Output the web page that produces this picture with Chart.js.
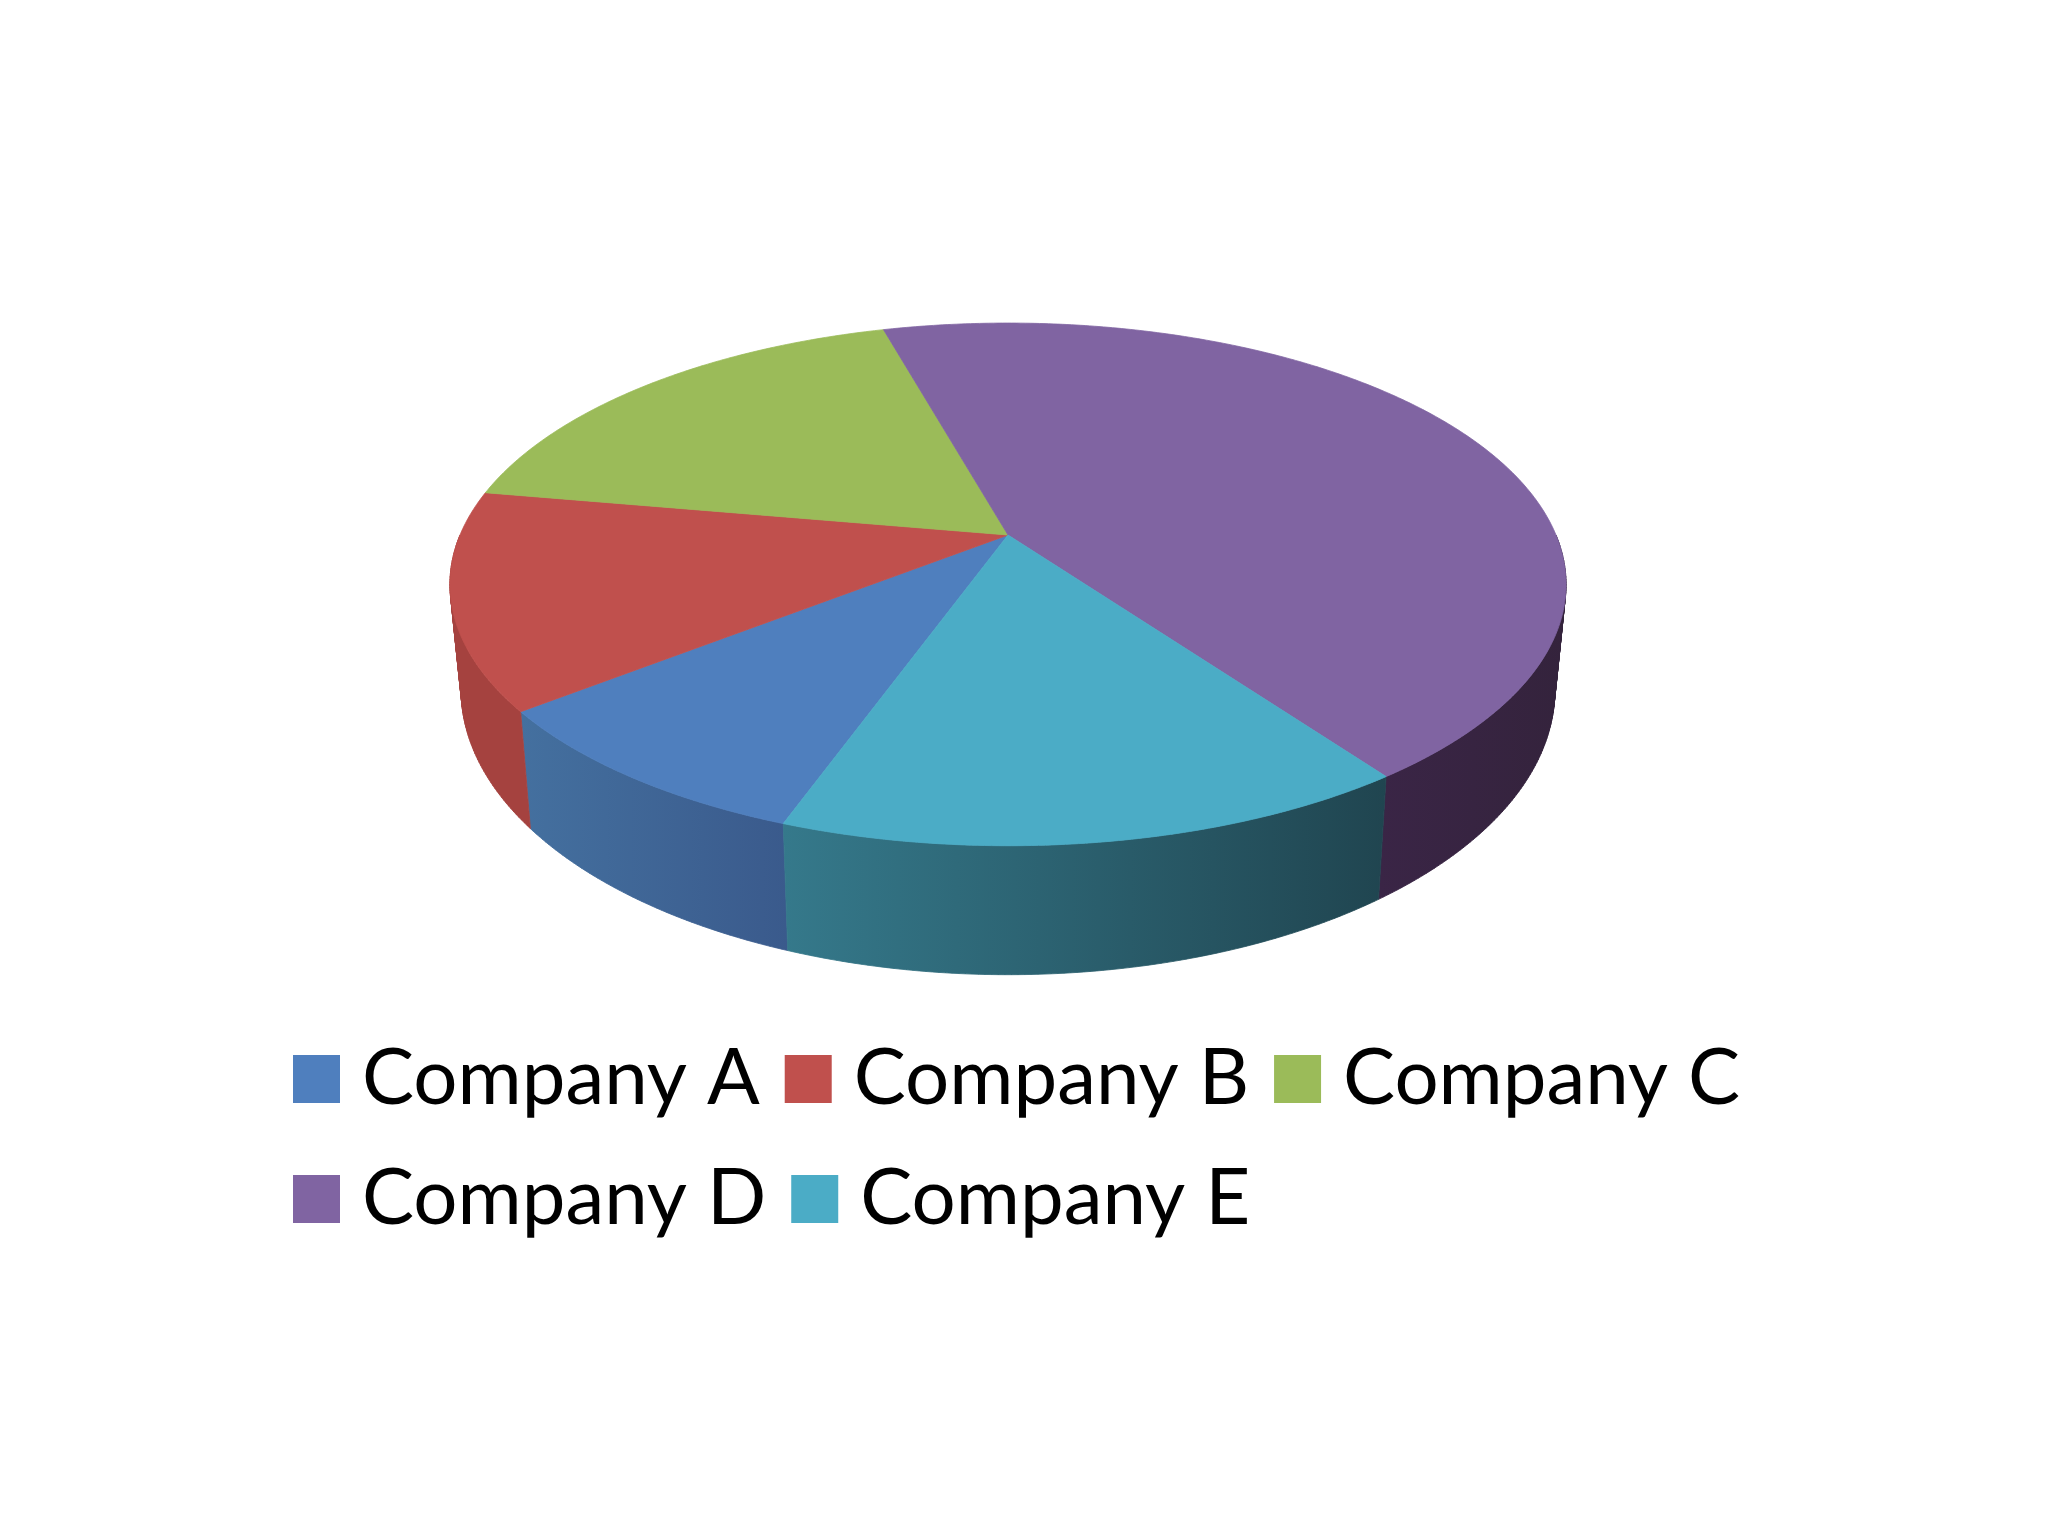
<!DOCTYPE html>
<html>
<head>
<meta charset="utf-8">
<title>Company share</title>
<script src="https://cdn.jsdelivr.net/npm/chart.js@4"></script>
<style>
  html, body { margin: 0; padding: 0; background: #ffffff; }
  #wrap { width: 2048px; height: 1536px; }
</style>
</head>
<body>
<div id="wrap"><canvas id="chart"></canvas></div>
<script>
const categories = ['Company A', 'Company B', 'Company C', 'Company D', 'Company E'];
const shares = [8.9, 13.4, 17.9, 44.4, 15.4];
const topColors = ['#4f7fbe', '#c0504d', '#9bbb59', '#8064a2', '#4bacc6'];
const wallLeft = ['#44709f', '#a5423f', '#7d9647', '#3a2546', '#35798b'];
const wallRight = ['#3a5a8c', '#a5423f', '#7d9647', '#34233c', '#204550'];

// The tilted disc: the apex sits above the centre of the outline, as in a perspective view
const disc = { cx: 1008, cy: 535, halfX: 548, halfY: 252, skew: -0.189, frontY: 846, lowFrontY: 975, shrinkX: 0.98, stretchY: 1.09 };

function rim(angle) {
    const den = 1 + disc.skew * Math.sin(angle);
    return {
        x: disc.cx + disc.halfX * Math.cos(angle) / den,
        y: disc.cy + disc.halfY * Math.sin(angle) / den
    };
}

function lowerRim(angle) {
    const p = rim(angle);
    return {
        x: disc.cx + (p.x - disc.cx) * disc.shrinkX,
        y: disc.lowFrontY + (p.y - disc.frontY) * disc.stretchY
    };
}

function samples(from, to) {
    const n = Math.max(2, Math.ceil((to - from) / 0.01));
    const out = [];
    for (let i = 0; i <= n; i++) out.push(from + (to - from) * i / n);
    return out;
}

function drawWall(ctx, from, to, i) {
    const angles = samples(from, to);
    const xs = angles.map(a => rim(a).x).concat(angles.map(a => lowerRim(a).x));
    const gradient = ctx.createLinearGradient(Math.min(...xs), 0, Math.max(...xs), 0);
    gradient.addColorStop(0, wallLeft[i]);
    gradient.addColorStop(1, wallRight[i]);
    ctx.beginPath();
    // the strip folds back on itself at the outline, so every quad gets the same winding or they cancel out
    for (let k = 1; k < angles.length; k++) {
        const quad = [rim(angles[k - 1]), rim(angles[k]), lowerRim(angles[k]), lowerRim(angles[k - 1])];
        const area = quad.reduce((sum, p, n) => {
            const q = quad[(n + 1) % 4];
            return sum + p.x * q.y - q.x * p.y;
        }, 0);
        if (area < 0) quad.reverse();
        quad.forEach((p, n) => n ? ctx.lineTo(p.x, p.y) : ctx.moveTo(p.x, p.y));
        ctx.closePath();
    }
    ctx.fillStyle = gradient;
    ctx.strokeStyle = gradient;
    ctx.lineWidth = 0.8;
    ctx.fill();
    ctx.stroke();
}

const discPlugin = {
    id: 'disc',
    beforeDatasetDraw(chart) {
        const ctx = chart.ctx;
        const arcs = chart.getDatasetMeta(0).data;
        ctx.save();
        // only the front half of the side is ever visible
        arcs.forEach((arc, i) => {
            [0, 2 * Math.PI].forEach(turn => {
                const from = Math.max(arc.startAngle, turn);
                const to = Math.min(arc.endAngle, turn + Math.PI);
                if (to > from) drawWall(ctx, from, to, i);
            });
        });
        arcs.forEach((arc, i) => {
            ctx.beginPath();
            ctx.moveTo(disc.cx, disc.cy);
            samples(arc.startAngle, arc.endAngle).map(rim).forEach(p => ctx.lineTo(p.x, p.y));
            ctx.closePath();
            ctx.fillStyle = topColors[i];
            ctx.strokeStyle = topColors[i];
            ctx.lineWidth = 0.8;
            ctx.fill();
            ctx.stroke();
        });
        ctx.restore();
        return false;
    }
};

new Chart(document.getElementById('chart'), {
    type: 'pie',
    data: {
        labels: categories,
        datasets: [{ data: shares, backgroundColor: topColors, borderWidth: 0 }]
    },
    options: {
        responsive: true,
        maintainAspectRatio: false,
        animation: false,
        rotation: 199.7,
        layout: { padding: { left: 268, right: 180, top: 200, bottom: 288 } },
        plugins: {
            tooltip: { enabled: false },
            legend: {
                position: 'bottom',
                align: 'start',
                labels: {
                    color: '#000000',
                    font: { family: "Lato, 'Open Sans', sans-serif", size: 78 },
                    padding: 42,
                    boxWidth: 13,
                    boxHeight: 14,
                    // the thick border widens the swatch without widening the gap to its text
                    generateLabels: chart => categories.map((name, i) => ({
                        text: name,
                        fillStyle: topColors[i],
                        strokeStyle: topColors[i],
                        lineWidth: 34,
                        index: i
                    }))
                }
            }
        }
    },
    plugins: [discPlugin]
});
</script>
</body>
</html>
